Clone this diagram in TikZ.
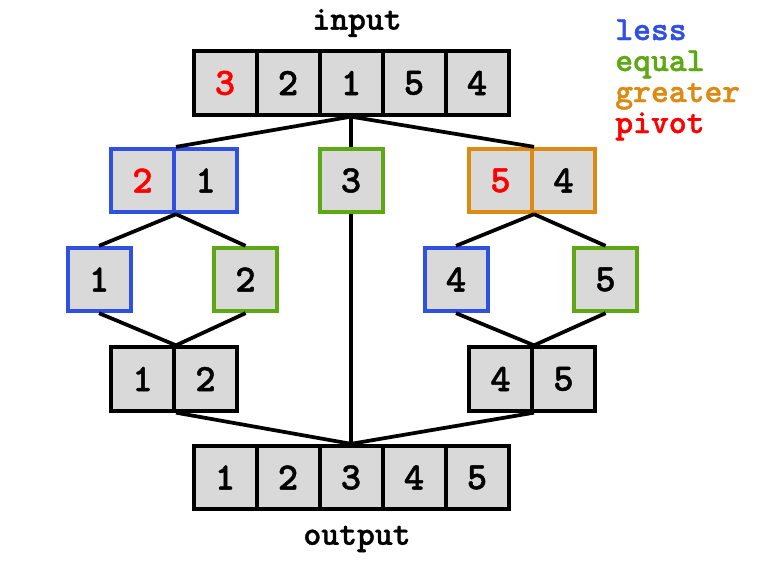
\documentclass[tikz,border=0pt]{standalone}
\usepackage{fontspec}
\newfontfamily\boxfont[FakeBold=1.2]{lmmonolt10-bold.otf}
\usetikzlibrary{positioning}
\definecolor{cellgray}{HTML}{D9D9D9}
\definecolor{lessc}{HTML}{3050E0}
\definecolor{equalc}{HTML}{5EA814}
\definecolor{greaterc}{HTML}{DC8A12}
\definecolor{pivotc}{HTML}{FF0000}
\tikzset{
  cell/.style={draw=black,fill=cellgray,line width=3pt,inner sep=0,
    minimum width=47.25pt,minimum height=47.5pt,font=\boxfont\fontsize{29}{29}\selectfont},
  lesscell/.style={cell,draw=lessc},
  equalcell/.style={cell,draw=equalc},
  greatercell/.style={cell,draw=greaterc},
  lbl/.style={font=\boxfont\fontsize{25.5}{25.5}\selectfont},
  legend/.style={font=\boxfont\fontsize{25.5}{23.25}\selectfont,align=left,anchor=north west,inner sep=0},
  link/.style={line width=2.8pt}
}

\begin{document}
\begin{tikzpicture}[x=0.75pt,y=-0.75pt]
  \useasboundingbox (0,0) rectangle (780,566);
  % input row
  \node[lbl] (inlbl) at (357,23) {input};
  \foreach \v [count=\i] in {3,2,1,5,4}
    \node[cell] (in\i) at (162+63*\i,83) {\v};
  \node[cell,text=pivotc] at (in1) {3};
  % split
  \node[lesscell,text=pivotc] (l1) at (142.5,180.5) {2};
  \node[lesscell] (l2) at (205.5,180.5) {1};
  \node[equalcell] (m) at (351,180.5) {3};
  \node[greatercell,text=pivotc] (g1) at (500.5,180.5) {5};
  \node[greatercell] (g2) at (563.5,180.5) {4};
  % second split
  \node[lesscell] (ll) at (99,279.5) {1};
  \node[equalcell] (le) at (245.5,279.5) {2};
  \node[lesscell] (gl) at (456,279.5) {4};
  \node[equalcell] (ge) at (605.5,279.5) {5};
  % merged
  \node[cell] (lm1) at (142.5,379) {1};
  \node[cell] (lm2) at (205.5,379) {2};
  \node[cell] (gm1) at (500.5,379) {4};
  \node[cell] (gm2) at (563.5,379) {5};
  % output row
  \foreach \v [count=\i] in {1,2,3,4,5}
    \node[cell] (out\i) at (162+63*\i,477.5) {\v};
  \node[lbl] (outlbl) at (357,539) {output};
  % legend
  \node[legend] (leg) at (615,19) {\textcolor{lessc}{less}\\
    \textcolor{equalc}{equal}\\ \textcolor{greaterc}{greater}\\
    \textcolor{pivotc}{pivot}};
  % connectors
  \draw[link] (in3.south) -- (l1.north east);
  \draw[link] (in3.south) -- (m.north);
  \draw[link] (in3.south) -- (g1.north east);
  \draw[link] (l1.south east) -- (ll.north);
  \draw[link] (l1.south east) -- (le.north);
  \draw[link] (g1.south east) -- (gl.north);
  \draw[link] (g1.south east) -- (ge.north);
  \draw[link] (ll.south) -- (lm1.north east);
  \draw[link] (le.south) -- (lm1.north east);
  \draw[link] (gl.south) -- (gm1.north east);
  \draw[link] (ge.south) -- (gm1.north east);
  \draw[link] (lm1.south east) -- (out3.north);
  \draw[link] (m.south) -- (out3.north);
  \draw[link] (gm1.south east) -- (out3.north);
\end{tikzpicture}
\end{document}
